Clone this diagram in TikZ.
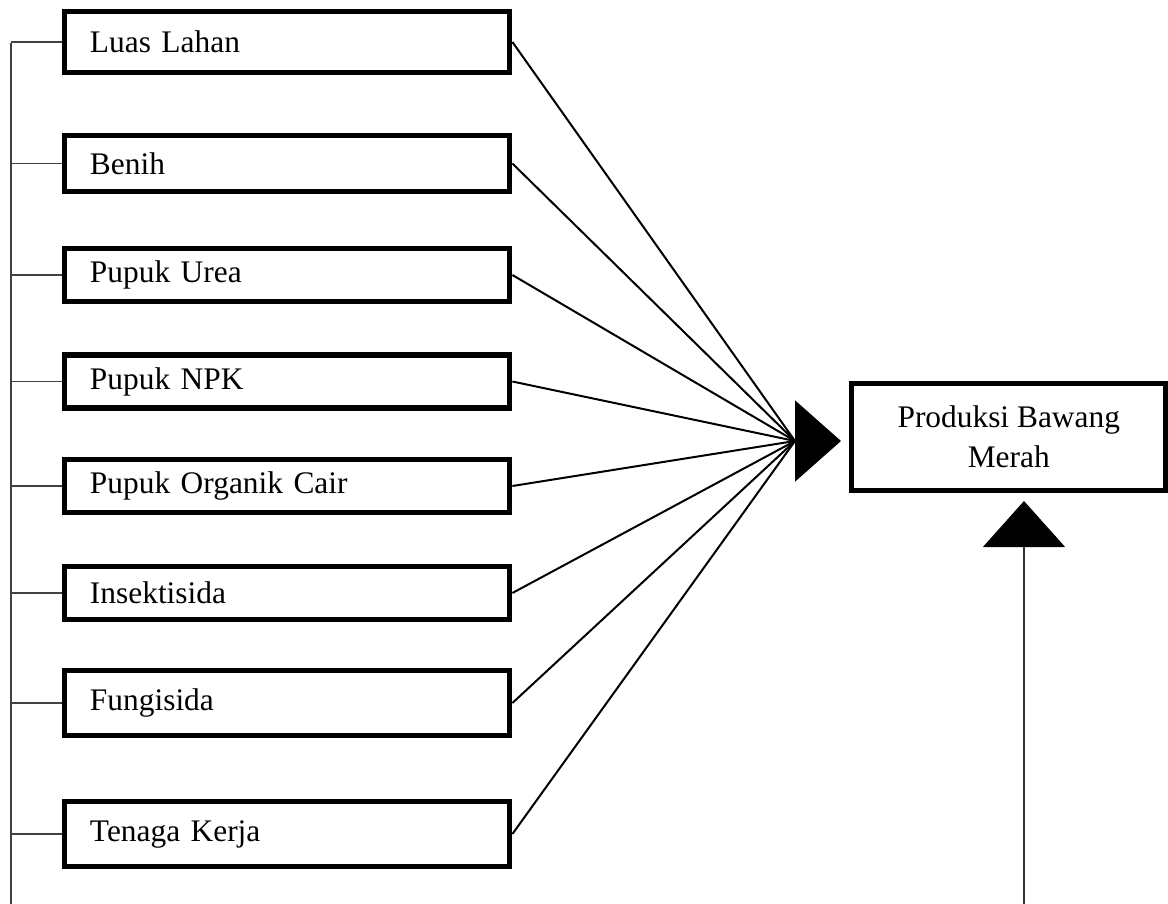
\documentclass[tikz,border=0pt]{standalone}
\usepackage{fontspec}
\setmainfont{Liberation Serif}
\usetikzlibrary{arrows.meta,positioning}

\begin{document}
\begin{tikzpicture}[
    x=0.5pt, y=-0.5pt,
    factor/.style={draw, line width=2.9pt, minimum height=26.5pt,
                text width=197pt, inner xsep=12.75pt, inner ysep=0pt,
                align=left, font=\fontsize{15.7}{20}\selectfont},
    target/.style={draw, line width=2.9pt, minimum width=157.25pt,
                minimum height=53.5pt, align=center, inner sep=0pt,
                font=\fontsize{15.7}{20}\selectfont},
    link/.style={line width=1pt},
    stub/.style={line width=0.75pt, black!75},
    bigtip/.style={-{Triangle[length=23pt, width=40.5pt]}, line width=1pt},
    feedarr/.style={-{Triangle[length=23pt, width=41pt, color=black]},
                line width=0.7pt, black!80}
]
\useasboundingbox (0,0) rectangle (1168,904);
% Input factors
\node[factor, minimum height=30.5pt] (luas) at (287,42) {Luas Lahan};
\node[factor, minimum height=28pt] (benih) at (287,163.5) {Benih};
\node[factor] (urea) at (287,275) {Pupuk Urea};
\node[factor] (npk) at (287,381.5) {Pupuk NPK};
\node[factor] (poc) at (287,486) {Pupuk Organik Cair};
\node[factor] (insek) at (287,593) {Insektisida};
\node[factor, minimum height=32.5pt] (fungi) at (287,703) {Fungisida};
\node[factor, minimum height=32.5pt] (tenaga) at (287,834) {Tenaga Kerja};
% Output
\node[target] (prod) at (1008.75,437) {Produksi Bawang\\Merah};
% Helper points
\coordinate (railtop) at (11,43);
\coordinate (railbot) at (11,904);
\coordinate (hub) at (795,441);
\coordinate (hubtip) at (841,441);
\coordinate (feed) at (1024,904);
\coordinate (feedtip) at (1024,501);
% Left rail
\draw[stub] (railtop) -- (railbot);
\foreach \f in {luas,benih,urea,npk,poc,insek,fungi,tenaga} {
  \draw[stub] (\f.west -| railtop) -- (\f.west);
  \draw[link] (\f.east) -- (hub);
}
% Arrows into output
\draw[bigtip] (hub) -- (hubtip);
\draw[feedarr] (feed) -- (feedtip);
\end{tikzpicture}
\end{document}
